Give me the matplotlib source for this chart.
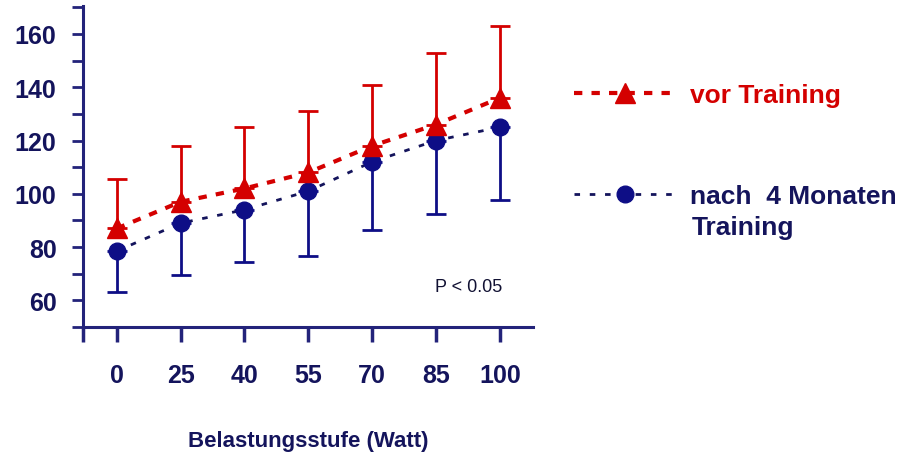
import matplotlib.pyplot as plt
from matplotlib.ticker import MultipleLocator

plt.rcParams['font.family'] = ['Liberation Sans', 'DejaVu Sans']

# Belastungsstufen (Watt)
stufen = ['0', '25', '40', '55', '70', '85', '100']
# vor Training: Mittelwert + SD (nur nach oben gezeichnet)
vor_mw = [87, 97, 102, 108, 118, 126, 136]
vor_sd = [18.5, 21, 23, 23, 23, 27, 27]
# nach 4 Monaten Training: Mittelwert + SD (nur nach unten)
nach_mw = [78.5, 89, 94, 101, 112, 120, 125]
nach_sd = [15.5, 19.5, 19.5, 24.5, 25.5, 27.5, 27.5]

rot = '#D40000'
blau = '#0E0E86'
navy = '#14145C'

fig = plt.figure(figsize=(9.1, 4.56), dpi=100)
ax = fig.add_axes([83/910, 1 - 328/456, 450/910, 321/456])

x = list(range(len(stufen)))

# Fehlerbalken
ax.errorbar(x, vor_mw, yerr=[[0]*len(x), vor_sd], fmt='none', ecolor=rot,
            elinewidth=2, capsize=7, capthick=2, zorder=2)
ax.errorbar(x, nach_mw, yerr=[nach_sd, [0]*len(x)], fmt='none', ecolor=blau,
            elinewidth=2, capsize=7, capthick=2, zorder=2)

# Linien mit Markern
l1, = ax.plot(x, vor_mw, color=rot, ls=(0, (2, 2.2)), lw=3, marker='^',
              markersize=14, markeredgecolor=rot, zorder=4, label='vor Training')
l2, = ax.plot(x, nach_mw, color=navy, ls=(0, (2, 3.5)), lw=2, marker='o',
              markersize=12, markerfacecolor=blau, markeredgecolor=blau,
              zorder=3, label='nach  4 Monaten')

ax.set_xlim(-0.53, 6.52)
ax.set_ylim(50, 170.5)

ax.set_xticks(x)
ax.set_xticklabels(stufen)
ax.set_yticks([60, 80, 100, 120, 140, 160])
ax.yaxis.set_minor_locator(MultipleLocator(10))
ax.set_xticks([-0.53], minor=True)

for s in ['top', 'right']:
    ax.spines[s].set_visible(False)
for s in ['left', 'bottom']:
    ax.spines[s].set_color('#23237A')
    ax.spines[s].set_linewidth(2.2)

ax.tick_params(axis='y', which='both', direction='out', length=8, width=2,
               color='#23237A', labelsize=18, labelcolor=navy, pad=11)
ax.tick_params(axis='x', which='both', direction='out', length=11, width=2.5,
               color='#23237A', labelsize=18, labelcolor=navy, pad=15)
for lab in ax.get_xticklabels() + ax.get_yticklabels():
    lab.set_fontweight('bold')

ax.set_xlabel('Belastungsstufe (Watt)', fontsize=16, fontweight='bold',
              color=navy, labelpad=31)

ax.text(4.98, 63.5, 'P < 0.05', fontsize=13, color='#111133')

leg = fig.legend(handles=[l1, l2], loc='upper left',
                 bbox_to_anchor=(550/910, 1 - 60/456), frameon=False,
                 handlelength=3.9, handletextpad=0.5,
                 labelspacing=2.92, numpoints=1,
                 labelcolor=[rot, navy], prop={'weight': 'bold', 'size': 19})
fig.text(692/910, 1 - 228/456, 'Training', fontsize=19, fontweight='bold',
         color=navy, va='center')

fig.savefig('out.png', dpi=100, facecolor='white')
